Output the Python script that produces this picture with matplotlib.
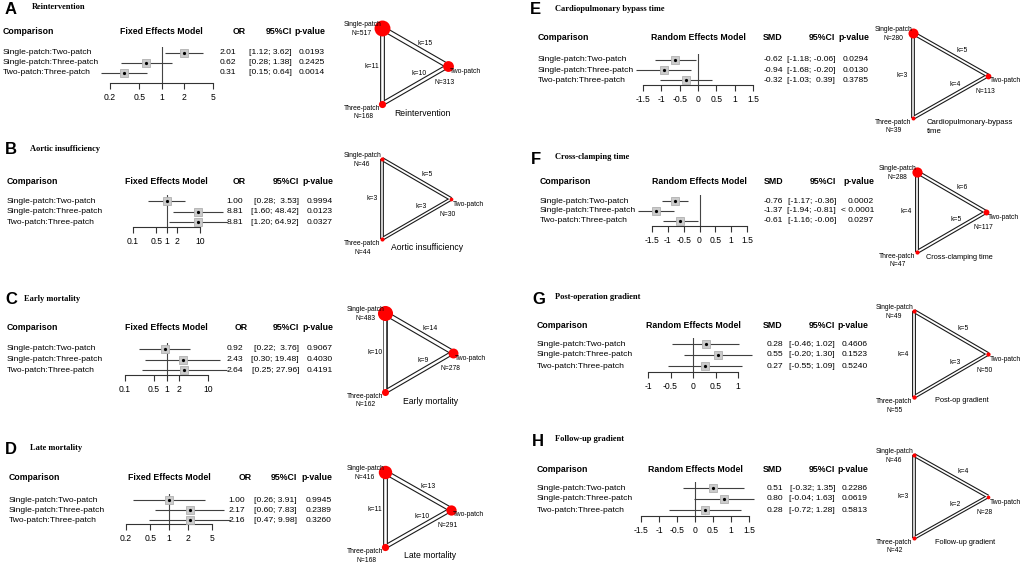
import math
import matplotlib
matplotlib.use("Agg")
import matplotlib.pyplot as plt

W, H = 1021, 565
plt.rcParams['font.family'] = ['Liberation Sans', 'DejaVu Sans']

# ---------------- data ----------------
comparisons = ['Single-patch:Two-patch', 'Single-patch:Three-patch', 'Two-patch:Three-patch']
treatments = ['Single-patch', 'Two-patch', 'Three-patch']

titles = ['Reintervention', 'Aortic insufficiency', 'Early mortality', 'Late mortality',
          'Cardiopulmonary bypass time', 'Cross-clamping time', 'Post-operation gradient',
          'Follow-up gradient']
net_titles = ['Reintervention', 'Aortic insufficiency', 'Early mortality', 'Late mortality',
              'Cardiopulmonary-bypass\ntime', 'Cross-clamping time', 'Post-op gradient',
              'Follow-up gradient']
letters = ['A', 'B', 'C', 'D', 'E', 'F', 'G', 'H']
models = ['Fixed Effects Model'] * 4 + ['Random Effects Model'] * 4
measures = ['OR'] * 4 + ['SMD'] * 4

est_A, lo_A, hi_A = [2.01, 0.62, 0.31], [1.12, 0.28, 0.15], [3.62, 1.38, 0.64]
est_B, lo_B, hi_B = [1.00, 8.81, 8.81], [0.28, 1.60, 1.20], [3.53, 48.42, 64.92]
est_C, lo_C, hi_C = [0.92, 2.43, 2.64], [0.22, 0.30, 0.25], [3.76, 19.48, 27.96]
est_D, lo_D, hi_D = [1.00, 2.17, 2.16], [0.26, 0.60, 0.47], [3.91, 7.83, 9.98]
est_E, lo_E, hi_E = [-0.62, -0.94, -0.32], [-1.18, -1.68, -1.03], [-0.06, -0.20, 0.39]
est_F, lo_F, hi_F = [-0.76, -1.37, -0.61], [-1.17, -1.94, -1.16], [-0.36, -0.81, -0.06]
est_G, lo_G, hi_G = [0.28, 0.55, 0.27], [-0.46, -0.20, -0.55], [1.02, 1.30, 1.09]
est_H, lo_H, hi_H = [0.51, 0.80, 0.28], [-0.32, -0.04, -0.72], [1.35, 1.63, 1.28]

p_A = ['0.0193', '0.2425', '0.0014']
p_B = ['0.9994', '0.0123', '0.0327']
p_C = ['0.9067', '0.4030', '0.4191']
p_D = ['0.9945', '0.2389', '0.3260']
p_E = ['0.0294', '0.0130', '0.3785']
p_F = ['0.0002', '< 0.0001', '0.0297']
p_G = ['0.4606', '0.1523', '0.5240']
p_H = ['0.2286', '0.0619', '0.5813']

ticks_A = [0.2, 0.5, 1, 2, 5]
ticks_B = [0.1, 0.5, 1, 2, 10]
ticks_C = [0.1, 0.5, 1, 2, 10]
ticks_D = [0.2, 0.5, 1, 2, 5]
ticks_E = [-1.5, -1, -0.5, 0, 0.5, 1, 1.5]
ticks_F = [-1.5, -1, -0.5, 0, 0.5, 1, 1.5]
ticks_G = [-1, -0.5, 0, 0.5, 1]
ticks_H = [-1.5, -1, -0.5, 0, 0.5, 1, 1.5]

# network: N per treatment, k per edge (S-Two, S-Three, Two-Three)
N_A, k_A = [517, 313, 168], [15, 11, 10]
N_B, k_B = [46, 30, 44], [5, 3, 3]
N_C, k_C = [483, 278, 162], [14, 10, 9]
N_D, k_D = [416, 291, 168], [13, 11, 10]
N_E, k_E = [280, 113, 39], [5, 3, 4]
N_F, k_F = [288, 117, 47], [6, 4, 5]
N_G, k_G = [49, 50, 55], [5, 4, 3]
N_H, k_H = [46, 28, 42], [4, 3, 2]

panels = [
    (est_A, lo_A, hi_A, p_A, ticks_A, N_A, k_A),
    (est_B, lo_B, hi_B, p_B, ticks_B, N_B, k_B),
    (est_C, lo_C, hi_C, p_C, ticks_C, N_C, k_C),
    (est_D, lo_D, hi_D, p_D, ticks_D, N_D, k_D),
    (est_E, lo_E, hi_E, p_E, ticks_E, N_E, k_E),
    (est_F, lo_F, hi_F, p_F, ticks_F, N_F, k_F),
    (est_G, lo_G, hi_G, p_G, ticks_G, N_G, k_G),
    (est_H, lo_H, hi_H, p_H, ticks_H, N_H, k_H),
]

# ---------------- layout (pixels, y from top) ----------------
layout = [
    dict(let=(5, 9), tx=32, ty=7, head=32, rows=(52.5, 72.5), axis=83, x0=110, x1=213, lab=3,
         est=236, mhead=239, ci=292, p=325, nodes=((382, 28), (448, 66), (382, 104)), tdx=12, tdy=9, tfs=6.2),
    dict(let=(5, 150), tx=30, ty=149, head=182, rows=(201, 222), axis=227, x0=133, x1=200, lab=7,
         est=243, mhead=239, ci=299, p=333, nodes=((382, 159), (451, 198), (382, 239)), tdx=9, tdy=8, tfs=6.2),
    dict(let=(5, 300), tx=24, ty=299, head=328, rows=(349, 370), axis=375, x0=125, x1=208, lab=7,
         est=243, mhead=241, ci=299, p=333, nodes=((385, 313), (453, 352), (384, 392)), tdx=18, tdy=9, tfs=6.2),
    dict(let=(5, 449), tx=30, ty=448, head=478, rows=(500, 520), axis=524, x0=126, x1=212, lab=9,
         est=245, mhead=245, ci=297, p=332, nodes=((385, 472), (451, 509), (384, 547)), tdx=19, tdy=9, tfs=6.2),
    dict(let=(530, 10), tx=555, ty=9, head=38, rows=(60, 80), axis=85, x0=643, x1=753, lab=538,
         est=783, mhead=773, ci=835, p=869, nodes=((913, 33), (988, 75), (913, 118)), tdx=14, tdy=9, tfs=5.6),
    dict(let=(531, 159), tx=555, ty=157, head=181, rows=(201, 221), axis=226, x0=652, x1=747, lab=540,
         est=783, mhead=774, ci=836, p=874, nodes=((917, 172), (986, 212), (916, 252)), tdx=9, tdy=6, tfs=5.3),
    dict(let=(532, 299), tx=555, ty=297, head=325, rows=(344, 366), axis=372, x0=648, x1=738, lab=537,
         est=783, mhead=773, ci=835, p=868, nodes=((914, 311), (988, 354), (914, 397)), tdx=21, tdy=3, tfs=5.3),
    dict(let=(532, 441), tx=555, ty=439, head=470, rows=(488, 510), axis=516, x0=641, x1=749, lab=537,
         est=783, mhead=773, ci=835, p=868, nodes=((914, 455), (988, 494), (914, 538)), tdx=21, tdy=5, tfs=5.3),
]

fig = plt.figure(figsize=(W / 100, H / 100), dpi=100)
fig.patch.set_facecolor('white')


def fx(x):
    return x / W


def fy(y):
    return 1 - y / H


def ptxt(x, y, s, **kw):
    fig.text(fx(x), fy(y), s, va='center', **kw)


def fmt_ci(lo, hi):
    los = ['%.2f' % v for v in lo]
    his = ['%.2f' % v for v in hi]
    wl = max(len(s) for s in los)
    wh = max(len(s) for s in his)
    return ['[%s; %s]' % (a.rjust(wl), b.rjust(wh)) for a, b in zip(los, his)]


for i, (est, lo, hi, pv, ticks, N, k) in enumerate(panels):
    L = layout[i]
    is_log = measures[i] == 'OR'

    # letter and title
    ptxt(L['let'][0], L['let'][1], letters[i], fontsize=12, fontweight='bold', ha='left')
    ptxt(L['tx'], L['ty'], titles[i], fontsize=6, fontweight='bold', ha='left',
         family='Liberation Serif')

    # forest axes
    r1, r3 = L['rows']
    s = (r3 - r1) / 2
    top = r1 - 6
    bot = L['axis']
    ax = fig.add_axes([fx(L['x0']), fy(bot), (L['x1'] - L['x0']) / W, (bot - top) / H])
    if is_log:
        ax.set_xscale('log')
    ax.set_xlim(ticks[0], ticks[-1])
    ax.set_ylim(1 + (bot - r1) / s, 1 - 6 / s)
    ax.set_facecolor('none')
    for sp in ['top', 'left', 'right']:
        ax.spines[sp].set_visible(False)
    ax.spines['bottom'].set_color('#333333')
    ax.spines['bottom'].set_linewidth(0.8)
    ax.set_yticks([])
    ax.minorticks_off()
    ax.set_xticks(ticks)
    ax.set_xticklabels(['%g' % t for t in ticks])
    ax.tick_params(axis='x', direction='out', length=4.3, width=0.8, color='#333333',
                   labelsize=6.2, pad=3)
    ax.axvline(1 if is_log else 0, color='#444444', lw=0.8, zorder=1)
    ys = [1, 2, 3]
    ax.hlines(ys, lo, hi, color='#404040', lw=0.8, clip_on=False, zorder=2)
    ax.plot(est, ys, 's', ms=5.8, mfc='#cbcbcb', mec='#b0b0b0', mew=0.6, clip_on=False, zorder=3)
    ax.plot(est, ys, 'o', ms=1.3, color='black', clip_on=False, zorder=4)

    # header + columns
    if is_log:
        frac = -math.log10(ticks[0]) / (math.log10(ticks[-1]) - math.log10(ticks[0]))
    else:
        frac = -ticks[0] / (ticks[-1] - ticks[0])
    nullx = L['x0'] + (L['x1'] - L['x0']) * frac
    hk = dict(fontsize=6.3, fontweight='bold')
    ptxt(L['lab'], L['head'], 'Comparison', ha='left', **hk)
    ptxt(nullx, L['head'], models[i], ha='center', **hk)
    ptxt(L['mhead'], L['head'], measures[i], ha='center', **hk)
    ptxt(L['ci'], L['head'], '95%CI', ha='right', **hk)
    ptxt(L['p'], L['head'], 'p-value', ha='right', **hk)
    cis = fmt_ci(lo, hi)
    for j in range(3):
        yy = r1 + j * s
        ptxt(L['lab'], yy, comparisons[j], ha='left', fontsize=6.1)
        ptxt(L['est'], yy, '%.2f' % est[j], ha='right', fontsize=6.1)
        ptxt(L['ci'], yy, cis[j], ha='right', fontsize=6.1)
        ptxt(L['p'], yy, pv[j], ha='right', fontsize=6.1)

    # network graph
    (sx, sy), (tx2, ty2), (hx, hy) = L['nodes']
    nax = fig.add_axes([fx(sx), fy(hy), (tx2 - sx) / W, (hy - sy) / H])
    nax.set_xlim(0, 1)
    nax.set_ylim(0, 1)
    nax.axis('off')
    pos = [(0, 1), (1, 0.5), (0, 0)]
    edges = [(0, 1), (0, 2), (1, 2)]
    for (a, b), kk in zip(edges, k):
        outer = (3.4 + 0.13 * kk) * 0.72
        xs = [pos[a][0], pos[b][0]]
        yv = [pos[a][1], pos[b][1]]
        nax.plot(xs, yv, color='#1a1a1a', lw=outer, solid_capstyle='butt', clip_on=False, zorder=1)
        nax.plot(xs, yv, color='white', lw=outer - 1.6, solid_capstyle='butt', clip_on=False, zorder=2)
    for (px_, py_), n in zip(pos, N):
        r = 1.5 + 0.0125 * n
        nax.plot(px_, py_, 'o', ms=2 * r * 0.72, color='#ff0000', mec='none', clip_on=False, zorder=5)
    fs = 4.9
    nax.text(0.66, 0.80, 'k=%d' % k[0], fontsize=fs, ha='center', va='center')
    nax.text(-0.15, 0.50, 'k=%d' % k[1], fontsize=fs, ha='center', va='center')
    nax.text(0.56, 0.40, 'k=%d' % k[2], fontsize=fs, ha='center', va='center')

    def lab(p, s_, dx, dy, ha):
        nax.annotate(s_, xy=p, xytext=(dx * 0.72, -dy * 0.72), textcoords='offset points',
                     ha=ha, va='center', fontsize=fs, zorder=6)

    lab(pos[0], treatments[0], -1, -3.5, 'right')
    lab(pos[0], 'N=%d' % N[0], -20, 5.5, 'center')
    lab(pos[1], treatments[1], 2, 5.5, 'left')
    lab(pos[1], 'N=%d' % N[1], -3, 16, 'center')
    lab(pos[2], treatments[2], -20, 4.5, 'center')
    lab(pos[2], 'N=%d' % N[2], -19, 13, 'center')
    nax.annotate(net_titles[i], xy=pos[2], xytext=(L['tdx'] * 0.72, -L['tdy'] * 0.72),
                 textcoords='offset points', ha='left', va='center',
                 fontsize=L['tfs'], linespacing=1.4)

fig.savefig('out.png', dpi=100, facecolor='white')
